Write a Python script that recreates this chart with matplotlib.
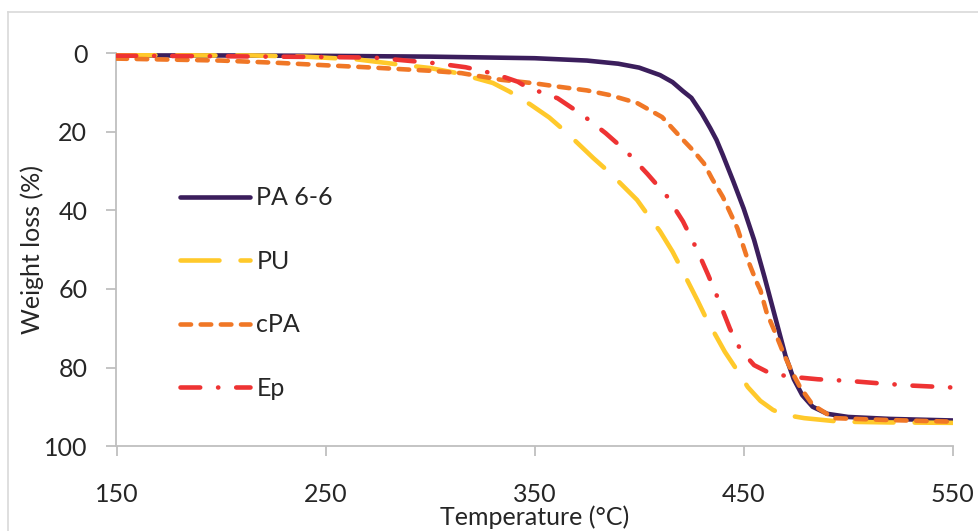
import matplotlib
matplotlib.use("Agg")
import matplotlib.pyplot as plt
from matplotlib.lines import Line2D

plt.rcParams['font.family'] = ['Lato', 'DejaVu Sans']

# ---- data ----
series_names = ["PA 6-6", "PU", "cPA", "Ep"]

pa66_T = [150, 200, 250, 300, 350, 375, 390, 400, 410, 416, 421, 425, 430, 434, 437,
          440, 445, 450, 455, 460, 465, 470, 474, 478, 483, 490, 500, 520, 550]
pa66_W = [0.5, 0.5, 0.6, 0.8, 1.2, 1.8, 2.6, 3.6, 5.5, 7.3, 9.6, 11.3, 15.3, 19.0, 22,
          25.8, 32.5, 39.5, 47.5, 57, 67, 77, 83, 87, 90, 91.8, 92.6, 93.1, 93.5]

pu_T = [150, 200, 215, 240, 265, 285, 300, 313, 330, 338, 348, 357, 365, 378, 386,
        399, 404, 410, 416, 420, 428, 432, 441, 446, 452, 458, 464, 469, 479, 496, 520, 550]
pu_W = [0.4, 0.5, 0.5, 0.8, 1.5, 2.8, 3.7, 5.0, 7.5, 9.7, 13, 16.3, 20, 26.6, 30.4,
        37.3, 41, 45.3, 50.5, 54.6, 63, 67.4, 76, 80, 85, 88.5, 90.8, 92, 92.9, 93.8, 94, 94.1]

cpa_T = [150, 200, 228, 250, 273, 300, 315, 334, 350, 362, 375, 386, 399, 411, 421,
         426, 431, 435, 440, 447, 452, 456, 458, 461, 465, 469, 473, 477, 483, 493, 520, 550]
cpa_W = [1.3, 1.8, 2.4, 3.0, 3.6, 4.4, 5.0, 6.7, 7.6, 8.5, 9.4, 10.6, 12.6, 16.2, 22,
         24.8, 28, 32, 36.5, 44.5, 52.6, 58, 60.3, 66, 71, 76.3, 81, 85, 89.5, 92.9, 93.4, 93.8]

ep_T = [150, 200, 250, 273, 303, 317, 331, 342, 346, 361, 373, 384, 394, 404, 413.5,
        421, 427.7, 433, 437.4, 440, 443.5, 448.5, 455, 462, 471.6, 485.5, 500, 514, 530, 550]
ep_W = [0.55, 0.7, 0.9, 1.05, 2.5, 3.5, 5.2, 7.2, 8.5, 11.4, 15.7, 20.3, 25, 30.7, 36.5,
        42.8, 50, 56.4, 62, 65.5, 70.2, 75.5, 79.4, 81.3, 82.3, 83, 83.4, 84, 84.6, 85.1]

x_ticks = [150, 250, 350, 450, 550]
y_ticks = [0, 20, 40, 60, 80, 100]

# ---- styles ----
colors = ["#3B1E5C", "#FFC92B", "#F07726", "#EE3333"]
lw = 3.3
dash_styles = [
    None,                       # solid
    (0, (8.5, 4.6)),            # long dash
    (0, (2.3, 2.1)),            # short dash
    (0, (4.3, 3.9, 0.05, 3.9)), # long dash-dot
]
fs = 18

W, H = 979, 531
fig = plt.figure(figsize=(W / 100, H / 100), dpi=100)

ax_left, ax_right = 116.5, 952.7
ax_top, ax_bottom = 53.5, 446.0
ax = fig.add_axes([ax_left / W, (H - ax_bottom) / H,
                   (ax_right - ax_left) / W, (ax_bottom - ax_top) / H])

data = [(pa66_T, pa66_W), (pu_T, pu_W), (cpa_T, cpa_W), (ep_T, ep_W)]
for i, ((T, Wl), name) in enumerate(zip(data, series_names)):
    kw = dict(color=colors[i], lw=lw, solid_capstyle='round',
              dash_capstyle='round', solid_joinstyle='round', label=name,
              zorder=2 + i)
    if dash_styles[i] is not None:
        kw['linestyle'] = dash_styles[i]
    ax.plot(T, Wl, **kw)

ax.set_xlim(150, 550)
ax.set_ylim(100, 0)
ax.set_xticks(x_ticks)
ax.set_yticks(y_ticks)

grey = "#BFBFBF"
txt = "#262626"
for s in ['top', 'right']:
    ax.spines[s].set_visible(False)
for s in ['left', 'bottom']:
    ax.spines[s].set_color(grey)
    ax.spines[s].set_linewidth(1.3)
ax.tick_params(axis='both', direction='out', length=7, width=1.3, color=grey,
               labelcolor=txt, labelsize=fs)
ax.tick_params(axis='y', pad=14)
ax.tick_params(axis='x', pad=20)

ax.set_xlabel("Temperature (°C)", fontsize=fs, color=txt, labelpad=-1)
ax.set_ylabel("Weight loss (%)", fontsize=fs, color=txt, labelpad=0)

leg = ax.legend(loc='upper left', bbox_to_anchor=(0.064, 0.687), frameon=False,
                fontsize=fs, handlelength=2.8, handletextpad=0.25,
                labelspacing=1.62, borderaxespad=0)
for t in leg.get_texts():
    t.set_color(txt)

# outer chart border (top and left visible)
border = "#D9D9D9"
fig.add_artist(Line2D([8 / W, 1.0], [1 - 12 / H, 1 - 12 / H], color=border,
                      lw=1.2, transform=fig.transFigure))
fig.add_artist(Line2D([8 / W, 8 / W], [0.0, 1 - 12 / H], color=border,
                      lw=1.2, transform=fig.transFigure))

fig.savefig("out.png", dpi=100)
